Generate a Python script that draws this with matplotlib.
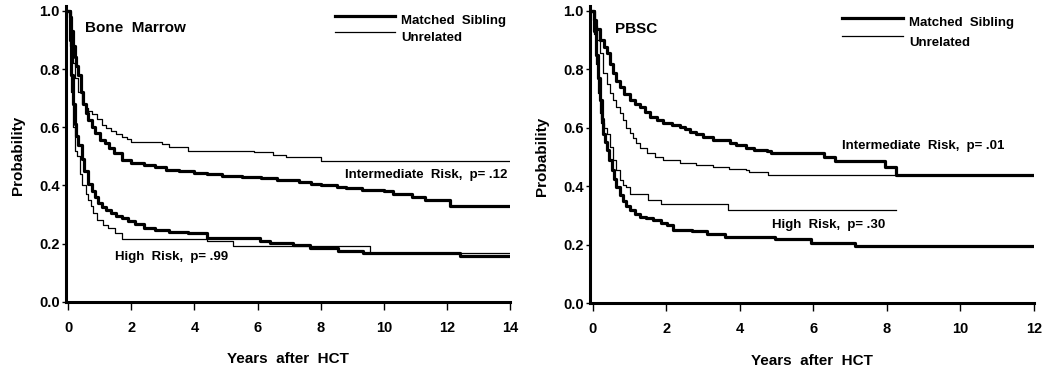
import numpy as np
import matplotlib.pyplot as plt

plt.rcParams['font.family'] = ['Liberation Sans', 'DejaVu Sans']
plt.rcParams['font.weight'] = 'bold'

# ---- Bone Marrow: curvas escalonadas (años, probabilidad) ----
bm_ms_int_t = [0, 0.05, 0.1, 0.15, 0.2, 0.25, 0.32, 0.4, 0.48, 0.55, 0.63, 0.75, 0.85, 1.0,
               1.16, 1.3, 1.45, 1.69, 2.0, 2.4, 2.75, 3.1, 3.5, 4.0, 4.4, 4.86, 5.5, 6.1,
               6.6, 7.3, 7.7, 8.0, 8.5, 8.8, 9.3, 10.0, 10.3, 10.9, 11.3, 12.1, 14.0]
bm_ms_int_v = [1.0, 0.98, 0.93, 0.88, 0.84, 0.81, 0.78, 0.72, 0.68, 0.65, 0.625, 0.60, 0.58,
               0.555, 0.545, 0.53, 0.51, 0.487, 0.478, 0.47, 0.462, 0.452, 0.448, 0.444,
               0.438, 0.432, 0.428, 0.425, 0.418, 0.412, 0.405, 0.40, 0.395, 0.39, 0.385,
               0.38, 0.37, 0.36, 0.35, 0.33, 0.33]

bm_ur_int_t = [0, 0.05, 0.1, 0.15, 0.2, 0.3, 0.42, 0.55, 0.63, 0.75, 0.9, 1.06, 1.2, 1.37,
               1.5, 1.69, 1.85, 2.0, 2.96, 3.2, 3.8, 5.9, 6.5, 6.9, 8.0, 14.0]
bm_ur_int_v = [1.0, 0.95, 0.88, 0.82, 0.77, 0.72, 0.68, 0.665, 0.655, 0.645, 0.63, 0.608,
               0.598, 0.588, 0.578, 0.568, 0.56, 0.55, 0.542, 0.532, 0.52, 0.515, 0.505,
               0.497, 0.485, 0.485]

bm_ms_high_t = [0, 0.05, 0.1, 0.15, 0.2, 0.25, 0.32, 0.42, 0.5, 0.63, 0.75, 0.85, 0.95,
                1.06, 1.2, 1.37, 1.5, 1.69, 1.9, 2.1, 2.4, 2.75, 3.2, 3.8, 4.39, 6.08,
                6.39, 7.13, 7.66, 8.56, 9.35, 12.4, 14.0]
bm_ms_high_v = [1.0, 0.9, 0.78, 0.68, 0.61, 0.57, 0.54, 0.49, 0.45, 0.405, 0.38, 0.36,
                0.34, 0.325, 0.315, 0.305, 0.295, 0.288, 0.278, 0.268, 0.255, 0.245, 0.24,
                0.236, 0.218, 0.21, 0.203, 0.195, 0.184, 0.175, 0.166, 0.157, 0.157]

bm_ur_high_t = [0, 0.05, 0.1, 0.15, 0.2, 0.27, 0.37, 0.45, 0.55, 0.63, 0.72, 0.79, 0.9,
                1.1, 1.27, 1.48, 1.69, 4.39, 5.23, 9.56, 14.0]
bm_ur_high_v = [1.0, 0.88, 0.72, 0.6, 0.52, 0.5, 0.44, 0.4, 0.37, 0.35, 0.33, 0.305, 0.28,
                0.265, 0.255, 0.235, 0.215, 0.21, 0.19, 0.166, 0.166]

# ---- PBSC ----
pb_ms_int_t = [0, 0.05, 0.1, 0.2, 0.3, 0.38, 0.47, 0.56, 0.65, 0.74, 0.85, 1.01, 1.15,
               1.29, 1.42, 1.56, 1.75, 1.92, 2.15, 2.37, 2.5, 2.64, 2.8, 3.0, 3.27, 3.73,
               3.9, 4.18, 4.4, 4.73, 4.86, 6.3, 6.6, 7.95, 8.25, 12.0]
pb_ms_int_v = [1.0, 0.97, 0.94, 0.9, 0.875, 0.855, 0.82, 0.787, 0.76, 0.74, 0.715, 0.695,
               0.68, 0.672, 0.655, 0.638, 0.625, 0.615, 0.61, 0.604, 0.595, 0.587, 0.578,
               0.57, 0.558, 0.547, 0.54, 0.53, 0.525, 0.52, 0.515, 0.50, 0.485, 0.465,
               0.44, 0.44]

pb_ur_int_t = [0, 0.05, 0.11, 0.2, 0.29, 0.38, 0.47, 0.56, 0.65, 0.74, 0.83, 0.92, 1.01,
               1.1, 1.19, 1.3, 1.47, 1.7, 1.92, 2.37, 2.8, 3.27, 3.7, 4.18, 4.25, 4.77, 8.25]
pb_ur_int_v = [1.0, 0.95, 0.9, 0.855, 0.787, 0.75, 0.718, 0.695, 0.672, 0.65, 0.627, 0.6,
               0.581, 0.565, 0.547, 0.53, 0.513, 0.5, 0.49, 0.478, 0.472, 0.467, 0.46,
               0.455, 0.447, 0.437, 0.437]

pb_ms_high_t = [0, 0.05, 0.1, 0.15, 0.2, 0.25, 0.29, 0.33, 0.38, 0.45, 0.52, 0.58, 0.65,
                0.74, 0.83, 0.92, 1.01, 1.15, 1.29, 1.45, 1.65, 1.85, 2.01, 2.19, 2.7, 3.1,
                3.27, 3.6, 4.95, 5.95, 7.13, 12.0]
pb_ms_high_v = [1.0, 0.93, 0.85, 0.77, 0.695, 0.63, 0.58, 0.55, 0.524, 0.49, 0.455, 0.425,
                0.398, 0.37, 0.35, 0.333, 0.318, 0.305, 0.296, 0.29, 0.284, 0.275, 0.267,
                0.25, 0.245, 0.238, 0.235, 0.226, 0.218, 0.205, 0.194, 0.194]

pb_ur_high_t = [0, 0.05, 0.1, 0.15, 0.2, 0.24, 0.3, 0.38, 0.47, 0.56, 0.65, 0.74, 0.83,
                0.92, 1.01, 1.51, 1.87, 3.69, 8.25]
pb_ur_high_v = [1.0, 0.92, 0.82, 0.72, 0.65, 0.615, 0.6, 0.58, 0.535, 0.49, 0.455, 0.42,
                0.405, 0.398, 0.375, 0.353, 0.34, 0.32, 0.32]

grueso = 2.3
delgado = 0.9

fig = plt.figure(figsize=(10.5, 3.74), dpi=100)
ax1 = fig.add_axes([0.0629, 0.1933, 0.4229, 0.7906])
ax2 = fig.add_axes([0.5619, 0.1898, 0.4229, 0.7941])


def preparar(ax, xmax, xticks):
    ax.set_xlim(-0.07, xmax)
    ax.set_ylim(0, 1.017)
    ax.set_xticks(xticks)
    ax.set_yticks([0.0, 0.2, 0.4, 0.6, 0.8, 1.0])
    ax.set_yticklabels(['0.0', '0.2', '0.4', '0.6', '0.8', '1.0'])
    for s in ['top', 'right']:
        ax.spines[s].set_visible(False)
    for s in ['left', 'bottom']:
        ax.spines[s].set_linewidth(2.2)
    ax.tick_params(axis='x', length=6, width=1, pad=8, labelsize=10.5)
    ax.tick_params(axis='y', length=3, width=1, pad=1.5, labelsize=10.5)
    for lab in ax.get_xticklabels() + ax.get_yticklabels():
        lab.set_fontweight('bold')
    ax.set_xlabel('Years  after  HCT', fontsize=11, fontweight='bold')
    ax.set_ylabel('Probability', fontsize=11, fontweight='bold')
    ax.xaxis.set_label_coords(0.5, -0.17)
    ax.yaxis.set_label_coords(-0.092, 0.494)


# Panel izquierdo - Bone Marrow
preparar(ax1, 14, [0, 2, 4, 6, 8, 10, 12, 14])
ax1.step(bm_ur_int_t, bm_ur_int_v, where='post', color='black', lw=delgado)
ax1.step(bm_ur_high_t, bm_ur_high_v, where='post', color='black', lw=delgado)
ax1.step(bm_ms_int_t, bm_ms_int_v, where='post', color='black', lw=grueso)
ax1.step(bm_ms_high_t, bm_ms_high_v, where='post', color='black', lw=grueso)
ax1.text(0.53, 0.94, 'Bone  Marrow', fontsize=11, fontweight='bold', va='center')
ax1.text(8.77, 0.436, 'Intermediate  Risk,  p= .12', fontsize=9.5, fontweight='bold', va='center')
ax1.text(1.48, 0.155, 'High  Risk,  p= .99', fontsize=9.5, fontweight='bold', va='center')
ax1.plot([8.45, 10.35], [0.984, 0.984], color='black', lw=grueso, clip_on=False)
ax1.plot([8.45, 10.35], [0.927, 0.927], color='black', lw=delgado, clip_on=False)
ax1.text(10.55, 0.967, 'Matched  Sibling', fontsize=9.5, fontweight='bold', va='center')
ax1.text(10.55, 0.908, 'Unrelated', fontsize=9.5, fontweight='bold', va='center')

# Panel derecho - PBSC
preparar(ax2, 12, [0, 2, 4, 6, 8, 10, 12])
ax2.step(pb_ur_int_t, pb_ur_int_v, where='post', color='black', lw=delgado)
ax2.step(pb_ur_high_t, pb_ur_high_v, where='post', color='black', lw=delgado)
ax2.step(pb_ms_int_t, pb_ms_int_v, where='post', color='black', lw=grueso)
ax2.step(pb_ms_high_t, pb_ms_high_v, where='post', color='black', lw=grueso)
ax2.text(0.6, 0.937, 'PBSC', fontsize=11, fontweight='bold', va='center')
ax2.text(6.77, 0.539, 'Intermediate  Risk,  p= .01', fontsize=9.5, fontweight='bold', va='center')
ax2.text(4.88, 0.267, 'High  Risk,  p= .30', fontsize=9.5, fontweight='bold', va='center')
ax2.plot([6.77, 8.44], [0.975, 0.975], color='black', lw=grueso, clip_on=False)
ax2.plot([6.77, 8.44], [0.914, 0.914], color='black', lw=delgado, clip_on=False)
ax2.text(8.6, 0.958, 'Matched  Sibling', fontsize=9.5, fontweight='bold', va='center')
ax2.text(8.6, 0.891, 'Unrelated', fontsize=9.5, fontweight='bold', va='center')

fig.savefig('out.png', dpi=100)
